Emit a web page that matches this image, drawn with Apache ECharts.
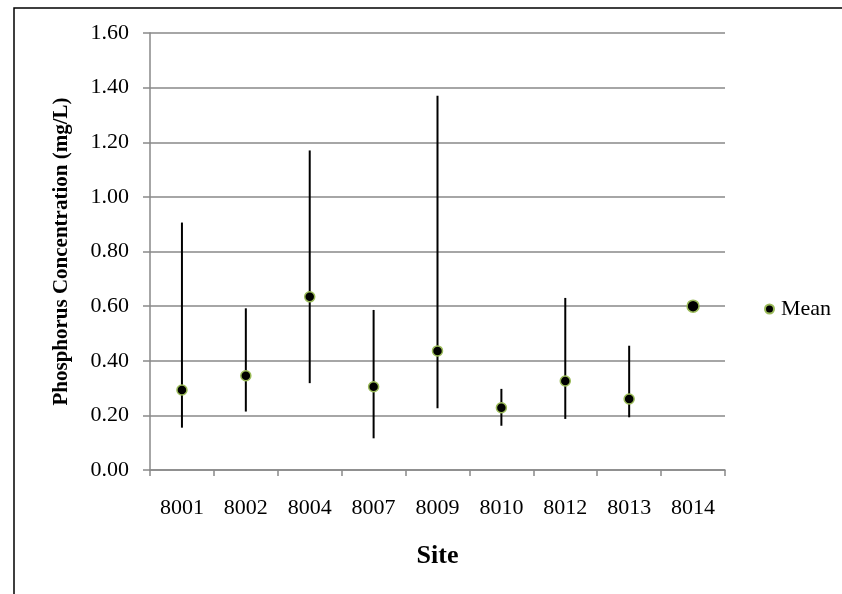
<!DOCTYPE html>
<html>
<head>
<meta charset="utf-8">
<script src="https://cdn.jsdelivr.net/npm/echarts@6/dist/echarts.min.js"></script>
<style>html,body{margin:0;padding:0;background:#fff}#c{width:842px;height:594px}</style>
</head>
<body>
<div id="c"></div>
<script>
const sites = ['8001','8002','8004','8007','8009','8010','8012','8013','8014'];
const meanValues = [0.293, 0.345, 0.634, 0.305, 0.436, 0.228, 0.326, 0.260, 0.600];
const maxValues  = [0.906, 0.592, 1.170, 0.586, 1.370, 0.297, 0.630, 0.455, null];
const minValues  = [0.155, 0.214, 0.318, 0.116, 0.226, 0.162, 0.187, 0.193, null];
const yTicks = { min: 0, max: 1.6, interval: 0.2 };

const FONT = '"Liberation Serif", "Times New Roman", serif';
const chart = echarts.init(document.getElementById('c'), null, { renderer: 'canvas' });

const errData = sites.map((s, i) => [i, minValues[i], maxValues[i]]).filter(d => d[1] != null);

chart.setOption({
  animation: false,
  backgroundColor: '#fff',
  textStyle: { fontFamily: FONT },
  graphic: [{
    type: 'rect', shape: { x: 14, y: 8, width: 900, height: 700 },
    style: { fill: 'none', stroke: '#000', lineWidth: 1.5 }, z: -1, silent: true
  }],
  grid: { left: 150, right: 117, top: 33, bottom: 124, containLabel: false },
  legend: {
    data: ['Mean'], left: 759, top: 293, itemWidth: 9, itemHeight: 9, itemGap: 5,
    textStyle: { fontFamily: FONT, fontSize: 22, color: '#000', padding: [0, 0, 0, 2] }
  },
  xAxis: {
    type: 'category', data: sites,
    name: 'Site', nameLocation: 'middle', nameGap: 73,
    nameTextStyle: { fontFamily: FONT, fontSize: 26, fontWeight: 'bold', color: '#000' },
    axisLine: { lineStyle: { color: '#898989', width: 1.5 } },
    axisTick: { show: true, alignWithLabel: false, length: 6, lineStyle: { color: '#898989', width: 1.5 } },
    axisLabel: { fontFamily: FONT, fontSize: 22, color: '#000', margin: 27 },
    splitLine: { show: false }
  },
  yAxis: {
    type: 'value', min: yTicks.min, max: yTicks.max, interval: yTicks.interval,
    name: 'Phosphorus Concentration (mg/L)', nameLocation: 'middle', nameGap: 78,
    nameTextStyle: { fontFamily: FONT, fontSize: 21, fontWeight: 'bold', color: '#000' },
    axisLine: { show: true, lineStyle: { color: '#898989', width: 1.5 } },
    axisTick: { show: true, length: 7, lineStyle: { color: '#898989', width: 1.5 } },
    axisLabel: { fontFamily: FONT, fontSize: 22, color: '#000', margin: 21, formatter: v => v.toFixed(2) },
    splitLine: { show: true, lineStyle: { color: '#898989', width: 1.5 } }
  },
  series: [
    {
      type: 'custom', name: 'range', silent: true, z: 3,
      renderItem: (params, api) => {
        const x = api.value(0);
        const lo = api.coord([x, api.value(1)]);
        const hi = api.coord([x, api.value(2)]);
        return { type: 'line', shape: { x1: lo[0], y1: lo[1], x2: hi[0], y2: hi[1] },
                 style: { stroke: '#000', lineWidth: 2 } };
      },
      data: errData, encode: { x: 0, y: [1, 2] }
    },
    {
      type: 'scatter', name: 'Mean', data: meanValues, z: 5,
      symbol: 'circle',
      symbolSize: (v, p) => p.dataIndex === 8 ? 12 : 10,
      itemStyle: { color: '#000', borderColor: '#9BBB59', borderWidth: 1.5, opacity: 1 }
    }
  ]
});
</script>
</body>
</html>
